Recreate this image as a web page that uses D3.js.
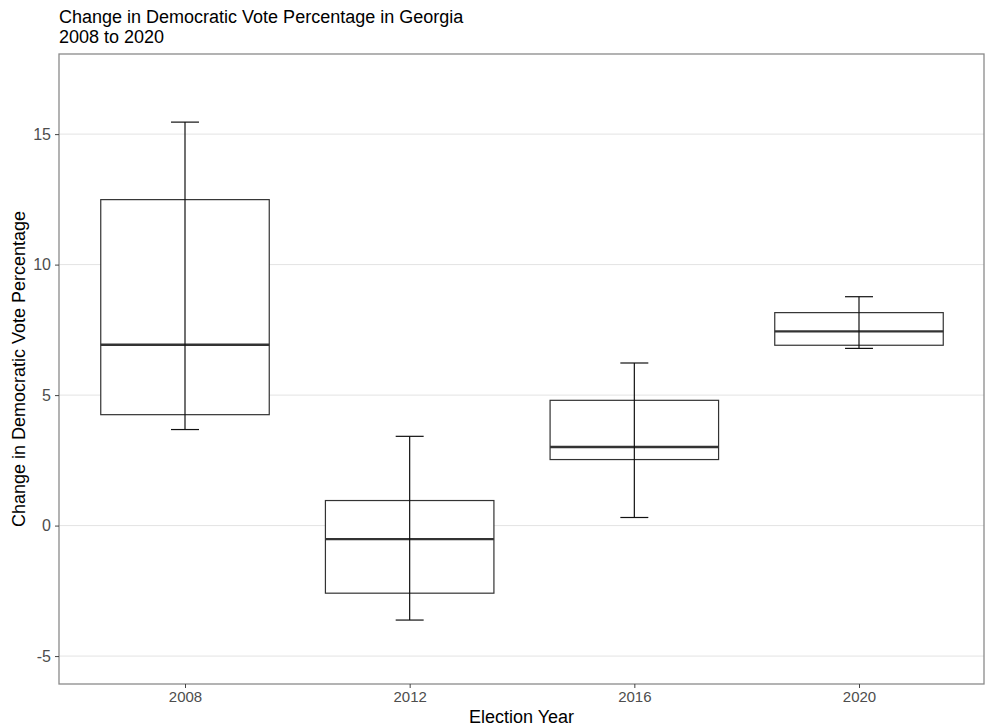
<!DOCTYPE html>
<html><head><meta charset="utf-8">
<script src="https://cdn.jsdelivr.net/npm/d3@7"></script>
<style>body{margin:0;background:#fff;} svg{display:block;font-family:"Liberation Sans",Arial,sans-serif;}</style>
</head><body>
<svg id="c" width="985" height="728"></svg>
<script>
const years = ["2008","2012","2016","2020"];
const whiskerLow  = [3.68, -3.62, 0.31, 6.79];
const q1          = [4.25, -2.59, 2.53, 6.91];
const median      = [6.93, -0.52, 3.01, 7.44];
const q3          = [12.49, 0.96, 4.80, 8.16];
const whiskerHigh = [15.46, 3.42, 6.23, 8.77];
const yTicks = [-5, 0, 5, 10, 15];
const yTickLabels = ["-5", "0", "5", "10", "15"];
const titleLines = ["Change in Democratic Vote Percentage in Georgia", "2008 to 2020"];
const xTitle = "Election Year";
const yTitle = "Change in Democratic Vote Percentage";

const svg = d3.select("#c");
const P = {left: 59, right: 984, top: 54, bottom: 684};

const y = d3.scaleLinear().domain([-6.07, 18.07]).range([P.bottom, P.top]);
const xp = d3.scalePoint().domain(years).range([185, 859]);
const step = xp.step();
const boxW = step * 0.75;
const capHalf = boxW * 0.083;

// grid
svg.append("g").selectAll("line").data(yTicks).join("line")
  .attr("x1", P.left).attr("x2", P.right)
  .attr("y1", d => y(d)).attr("y2", d => y(d))
  .attr("stroke", "#e3e3e3").attr("stroke-width", 1);

// boxes
const data = years.map((yr, i) => ({yr, lo: whiskerLow[i], q1: q1[i], med: median[i], q3: q3[i], hi: whiskerHigh[i]}));
const g = svg.append("g").selectAll("g").data(data).join("g");
g.append("rect")
  .attr("x", d => xp(d.yr) - boxW/2).attr("width", boxW)
  .attr("y", d => y(d.q3)).attr("height", d => y(d.q1) - y(d.q3))
  .attr("fill", "#fff").attr("stroke", "#333").attr("stroke-width", 1.2);
g.append("line")
  .attr("x1", d => xp(d.yr) - boxW/2).attr("x2", d => xp(d.yr) + boxW/2)
  .attr("y1", d => y(d.med)).attr("y2", d => y(d.med))
  .attr("stroke", "#333").attr("stroke-width", 2.4);
g.append("line")
  .attr("x1", d => xp(d.yr)).attr("x2", d => xp(d.yr))
  .attr("y1", d => y(d.lo)).attr("y2", d => y(d.hi))
  .attr("stroke", "#111").attr("stroke-width", 1.2);
g.append("line")
  .attr("x1", d => xp(d.yr) - capHalf).attr("x2", d => xp(d.yr) + capHalf)
  .attr("y1", d => y(d.hi)).attr("y2", d => y(d.hi))
  .attr("stroke", "#111").attr("stroke-width", 1.2);
g.append("line")
  .attr("x1", d => xp(d.yr) - capHalf).attr("x2", d => xp(d.yr) + capHalf)
  .attr("y1", d => y(d.lo)).attr("y2", d => y(d.lo))
  .attr("stroke", "#111").attr("stroke-width", 1.2);

// panel border
svg.append("rect").attr("x", P.left).attr("y", P.top)
  .attr("width", P.right - P.left).attr("height", P.bottom - P.top)
  .attr("fill", "none").attr("stroke", "#8a8a8a").attr("stroke-width", 1.3);

// y axis
const ya = svg.append("g").attr("transform", `translate(${P.left},0)`)
  .call(d3.axisLeft(y).tickValues(yTicks).tickSize(4).tickPadding(4)
    .tickFormat((d, i) => yTickLabels[i]));
ya.select(".domain").remove();
ya.selectAll(".tick line").attr("stroke", "#444");
ya.selectAll(".tick text").attr("fill", "#4d4d4d").attr("font-size", 16).attr("font-family", "Liberation Sans, Arial, sans-serif");

// x axis
const xa = svg.append("g").attr("transform", `translate(0,${P.bottom})`)
  .call(d3.axisBottom(xp).tickSize(4).tickPadding(3));
xa.select(".domain").remove();
xa.selectAll(".tick line").attr("stroke", "#444");
xa.selectAll(".tick text").attr("fill", "#4d4d4d").attr("font-size", 15).attr("font-family", "Liberation Sans, Arial, sans-serif");

// titles
svg.append("text").attr("x", 59).attr("y", 23).attr("font-size", 18).attr("fill", "#000").text(titleLines[0]);
svg.append("text").attr("x", 59).attr("y", 43).attr("font-size", 18).attr("fill", "#000").text(titleLines[1]);
svg.append("text").attr("x", (P.left + P.right)/2).attr("y", 723).attr("text-anchor", "middle")
  .attr("font-size", 18).attr("fill", "#000").text(xTitle);
svg.append("text").attr("transform", `translate(25,${(P.top + P.bottom)/2}) rotate(-90)`)
  .attr("text-anchor", "middle").attr("font-size", 18).attr("fill", "#000").text(yTitle);
</script>
</body></html>
